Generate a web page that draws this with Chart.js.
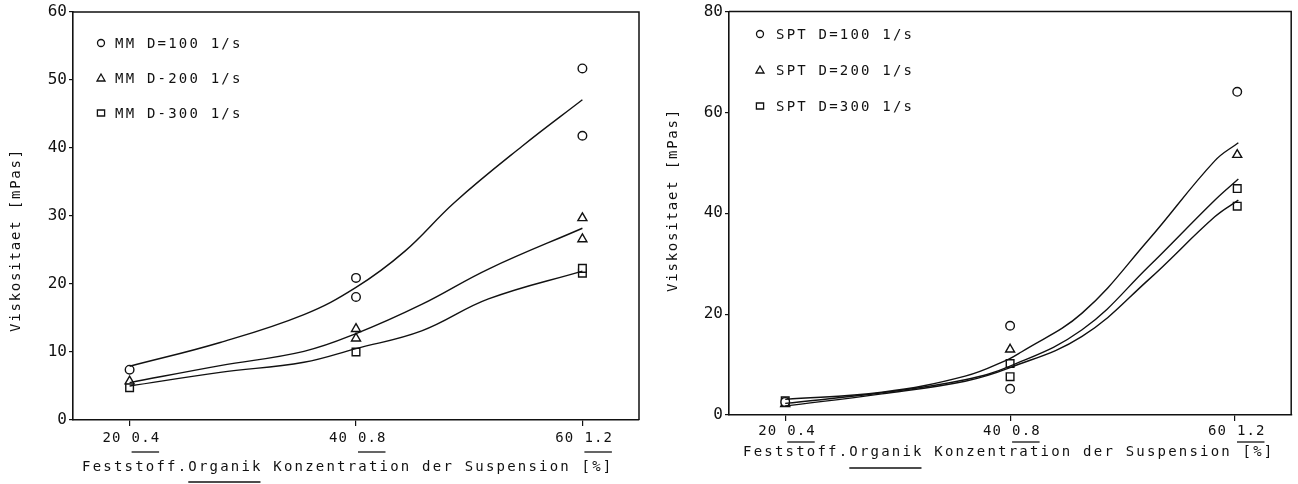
<!DOCTYPE html>
<html>
<head>
<meta charset="utf-8">
<script src="https://cdn.jsdelivr.net/npm/chart.js@4.4.1/dist/chart.umd.min.js"></script>
<style>
  html, body { margin: 0; padding: 0; background: #fff; }
  #wrap { position: relative; width: 1298px; height: 484px; background: #fff; }
  canvas { position: absolute; top: 0; }
</style>
</head>
<body>
<div id="wrap">
  <canvas id="mm" width="660" height="484" style="left:0px"></canvas>
  <canvas id="spt" width="638" height="484" style="left:660px"></canvas>
</div>
<script>
const INK = '#111111';
const MONO = '"DejaVu Sans Mono", "Liberation Mono", monospace';

// x axis: Feststoff concentration [%] with the Organik concentration below it
const xTickValues = [20, 40, 60];
const xTickIntegers = ['20', '40', '60'];
const xTickDecimals = ['0.4', '0.8', '1.2'];
const xTitlePrefix = 'Feststoff.';
const xTitleUnderlined = 'Organik';
const xTitleRest = ' Konzentration der Suspension [%]';
const yTitle = 'Viskositaet [mPas]';

// MM suspension: fitted curves
const mmFit100X = [20, 28, 35.4, 40, 44.3, 48.7, 54.7, 60];
const mmFit100Y = [7.9, 11.4, 15.5, 19.5, 24.8, 32.0, 40.3, 47.1];
const mmFit200X = [20, 28, 35.4, 40, 45.8, 51.7, 60];
const mmFit200Y = [5.5, 8.0, 10.1, 12.7, 17.0, 22.2, 28.2];
const mmFit300X = [20, 28, 35.4, 40, 45.8, 51.7, 60];
const mmFit300Y = [5.0, 7.0, 8.5, 10.5, 13.1, 17.8, 21.9];
// MM suspension: measured points
const mm100X = [20, 40, 40, 60, 60];
const mm100Y = [7.4, 20.9, 18.1, 51.7, 41.8];
const mm200X = [20, 40, 40, 60, 60];
const mm200Y = [5.7, 13.4, 12.0, 29.7, 26.6];
const mm300X = [20, 40, 60, 60];
const mm300Y = [4.75, 10.0, 21.6, 22.3];
const mmLegend = ['MM D=100 1/s', 'MM D-200 1/s', 'MM D-300 1/s'];

// SPT suspension: fitted curves
const sptFit100X = [20, 28.6, 36, 39.8, 41, 46.4, 52.3, 58.2, 60.3];
const sptFit100Y = [3.1, 4.5, 7.7, 11.0, 12.5, 20.2, 34.7, 50.4, 54.0];
const sptFit200X = [20, 28.6, 36, 40, 46.4, 52.3, 58.2, 60.3];
const sptFit200Y = [2.3, 4.4, 7.0, 9.7, 16.9, 29.4, 42.6, 46.8];
const sptFit300X = [20, 28.6, 36, 40, 46.4, 52.3, 58.2, 60.3];
const sptFit300Y = [1.8, 4.2, 6.7, 9.4, 15.6, 26.8, 39.3, 42.6];
// SPT suspension: measured points
const spt100X = [20, 40, 40, 60.2];
const spt100Y = [2.6, 17.7, 5.2, 64.1];
const spt200X = [20, 40, 60.2];
const spt200Y = [2.2, 13.0, 51.6];
const spt300X = [20, 40, 40, 60.2, 60.2];
const spt300Y = [2.8, 10.2, 7.6, 44.9, 41.4];
const sptLegend = ['SPT D=100 1/s', 'SPT D=200 1/s', 'SPT D=300 1/s'];

const markerStyles = ['circle', 'triangle', 'rect'];

function pts(xs, ys) { return xs.map((x, i) => ({ x: x, y: ys[i] })); }

function curve(xs, ys) {
  return { data: pts(xs, ys), showLine: true, pointRadius: 0, borderColor: INK,
           borderWidth: 1.4, tension: 0.4, fill: false };
}
function marks(xs, ys, style) {
  const r = style === 'circle' ? 4.3 : (style === 'triangle' ? 5.2 : 5.4);
  return { data: pts(xs, ys), showLine: false, pointStyle: style, pointRadius: r,
           pointBorderWidth: 1.4, pointBorderColor: INK, pointBackgroundColor: '#fff' };
}

function spaced(ctx, px) { if ('letterSpacing' in ctx) ctx.letterSpacing = px + 'px'; }

function legendMark(ctx, style, x, y) {
  ctx.beginPath();
  if (style === 'circle') {
    ctx.arc(x, y, 3.5, 0, Math.PI * 2);
  } else if (style === 'triangle') {
    ctx.moveTo(x, y - 4); ctx.lineTo(x + 4, y + 3); ctx.lineTo(x - 4, y + 3); ctx.closePath();
  } else {
    ctx.rect(x - 3.6, y - 3, 7.2, 6);
  }
  ctx.stroke();
}

// Frame, legend, axis titles and two-line x tick labels
function decorations(cfg) {
  return {
    id: 'decorations',
    afterDraw(chart) {
      const ctx = chart.ctx;
      const a = chart.chartArea;
      const xs = chart.scales.x;
      ctx.save();
      ctx.strokeStyle = INK;
      ctx.fillStyle = INK;
      ctx.lineWidth = 1.5;
      // top and right edges of the frame
      ctx.beginPath();
      ctx.moveTo(a.left, a.top); ctx.lineTo(a.right, a.top); ctx.lineTo(a.right, a.bottom);
      ctx.stroke();

      // legend
      ctx.lineWidth = 1.3;
      ctx.font = '14px ' + MONO;
      spaced(ctx, 2.2);
      ctx.textAlign = 'left';
      ctx.textBaseline = 'middle';
      cfg.legend.forEach((label, i) => {
        const y = cfg.legendRows[i];
        legendMark(ctx, markerStyles[i], cfg.legendMarkX, y);
        ctx.fillText(label, cfg.legendTextX, y + 1);
      });

      // x tick labels: Feststoff left of the tick, Organik (underlined) right of it
      ctx.font = '14px ' + MONO;
      spaced(ctx, 1.1);
      ctx.lineWidth = 1.3;
      xTickValues.forEach((v, i) => {
        const px = xs.getPixelForValue(v);
        ctx.textAlign = 'right';
        ctx.fillText(xTickIntegers[i], px - 8, cfg.tickY);
        ctx.textAlign = 'left';
        ctx.fillText(xTickDecimals[i], px + 2, cfg.tickY);
        spaced(ctx, 0);
        const w = ctx.measureText(xTickDecimals[i]).width + 1.1 * (xTickDecimals[i].length - 1);
        spaced(ctx, 1.1);
        ctx.beginPath();
        ctx.moveTo(px + 2, cfg.tickUnderY); ctx.lineTo(px + 2 + w, cfg.tickUnderY);
        ctx.stroke();
      });

      // x axis title
      ctx.font = '14px ' + MONO;
      spaced(ctx, 0);
      const cw = ctx.measureText('M').width + 2.2;
      spaced(ctx, 2.2);
      ctx.textAlign = 'left';
      const full = xTitlePrefix + xTitleUnderlined + xTitleRest;
      ctx.fillText(full, cfg.titleX, cfg.titleY);
      const u0 = cfg.titleX + cw * xTitlePrefix.length;
      const u1 = u0 + cw * xTitleUnderlined.length - 2.2;
      ctx.beginPath();
      ctx.moveTo(u0, cfg.titleUnderY); ctx.lineTo(u1, cfg.titleUnderY);
      ctx.stroke();

      // y axis title
      spaced(ctx, 1.8);
      ctx.translate(cfg.yTitleX, cfg.yTitleY);
      ctx.rotate(-Math.PI / 2);
      ctx.textAlign = 'center';
      ctx.fillText(yTitle, 0, 0);
      ctx.restore();
    }
  };
}

function makeChart(id, cfg, datasets) {
  return new Chart(document.getElementById(id), {
    type: 'scatter',
    data: { datasets: datasets },
    options: {
      responsive: false,
      animation: false,
      devicePixelRatio: 1,
      layout: { padding: { left: 0, top: cfg.top, right: cfg.right, bottom: 0 } },
      plugins: { legend: { display: false }, tooltip: { enabled: false } },
      scales: {
        x: {
          type: 'linear', min: 15, max: 65,
          afterBuildTicks: s => { s.ticks = xTickValues.map(v => ({ value: v })); },
          afterFit: s => { s.height = cfg.xHeight; },
          ticks: { display: false },
          grid: { drawOnChartArea: false, drawTicks: true, tickLength: 6, color: INK, lineWidth: 1.2 },
          border: { display: true, color: INK, width: 1.6 }
        },
        y: {
          type: 'linear', min: 0, max: cfg.yMax,
          afterFit: s => { s.width = cfg.yWidth; },
          ticks: { stepSize: cfg.yStep, color: INK, padding: 2,
                   font: { family: MONO, size: 16 } },
          grid: { drawOnChartArea: false, drawTicks: true, tickLength: 4, color: INK, lineWidth: 1.2 },
          border: { display: true, color: INK, width: 1.6 }
        }
      }
    },
    plugins: [decorations(cfg)]
  });
}

makeChart('mm', {
  top: 12, right: 21, yWidth: 73, xHeight: 64, yMax: 60, yStep: 10,
  legend: mmLegend, legendRows: [43, 78, 113], legendMarkX: 101, legendTextX: 115,
  tickY: 438, tickUnderY: 452, titleX: 82, titleY: 467, titleUnderY: 482,
  yTitleX: 16, yTitleY: 240
}, [
  curve(mmFit100X, mmFit100Y), curve(mmFit200X, mmFit200Y), curve(mmFit300X, mmFit300Y),
  marks(mm100X, mm100Y, 'circle'), marks(mm200X, mm200Y, 'triangle'), marks(mm300X, mm300Y, 'rect')
]);

makeChart('spt', {
  top: 10, right: 6, yWidth: 69, xHeight: 69, yMax: 80, yStep: 20,
  legend: sptLegend, legendRows: [34, 70, 106], legendMarkX: 100, legendTextX: 116,
  tickY: 431, tickUnderY: 442, titleX: 83, titleY: 452, titleUnderY: 468,
  yTitleX: 13, yTitleY: 200
}, [
  curve(sptFit100X, sptFit100Y), curve(sptFit200X, sptFit200Y), curve(sptFit300X, sptFit300Y),
  marks(spt100X, spt100Y, 'circle'), marks(spt200X, spt200Y, 'triangle'), marks(spt300X, spt300Y, 'rect')
]);
</script>
</body>
</html>
